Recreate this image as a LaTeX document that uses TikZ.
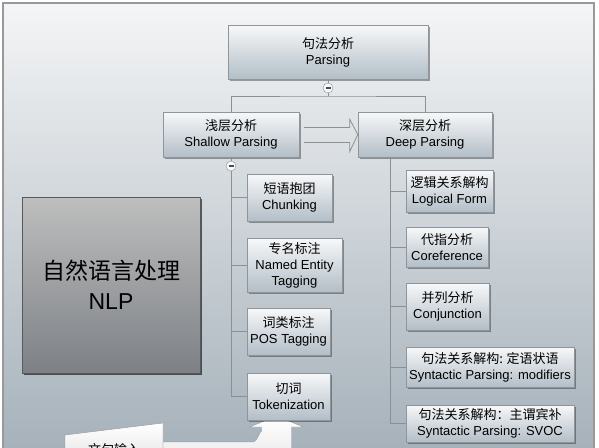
\documentclass[tikz,border=0pt]{standalone}
\usepackage{fontspec}
\setmainfont{Liberation Sans}
\newfontfamily\cjk{Noto Sans CJK SC}
\usetikzlibrary{calc,shadows}
\definecolor{boxtop}{HTML}{F7F8F9}
\definecolor{boxbot}{HTML}{B3BEC7}
\definecolor{boxline}{HTML}{8E969D}
\definecolor{wire}{HTML}{8A9095}
\definecolor{bgtop}{HTML}{F4F5F6}
\definecolor{bgbot}{HTML}{A2AEB7}
\definecolor{nlptop}{HTML}{BEBEBE}
\definecolor{nlpbot}{HTML}{7C8085}
\def\zh#1{{\cjk #1}}
\tikzset{
	box/.style={draw=boxline, top color=boxtop, bottom color=boxbot, align=center, inner sep=1pt,
		drop shadow={shadow xshift=1.5pt, shadow yshift=-1.5pt, fill=black, opacity=0.35},
		font=\fontsize{13}{16}\selectfont},
	nlpbox/.style={draw=black!65, top color=nlptop, bottom color=nlpbot, align=center,
		drop shadow={shadow xshift=2pt, shadow yshift=-2pt, fill=black, opacity=0.6},
		font=\fontsize{23}{30}\selectfont},
	minus/.style={circle, draw=wire, fill=boxtop, minimum size=10pt, inner sep=0pt,
		path picture={\draw[black!70, line width=1.3pt] ([xshift=-2.5pt]path picture bounding box.center) -- ([xshift=2.5pt]path picture bounding box.center);}},
	wire/.style={draw=wire, line width=0.8pt}
}

\begin{document}
\begin{tikzpicture}[x=1pt, y=-1pt]
			%%%%% START %%%%%
			\useasboundingbox (0,0) rectangle (599,447);
			\clip (0,0) rectangle (599,447);
			
			\draw[draw=black!40, line width=1.2pt, top color=bgtop, bottom color=bgbot] (3,3) rectangle (594,470);
			
			\draw[draw=boxline, top color=white, bottom color=black!15] (65,435) -- (163,423) -- (163,480) -- (65,480) -- cycle;
			\node[font=\fontsize{13}{16}\selectfont] (input) at (114,450) {\zh{文句输入}};
			\coordinate (inR) at (163,442);
			\draw[draw=boxline, top color=white, bottom color=black!12] (inR) -- (252.5,442) to[out=0, in=90] (261.5,432) -- (261.5,427) -- (249.5,427) -- (276.5,416) -- (303.5,427) -- (291.5,427) -- (291.5,480) -- (163,480) -- cycle;
			
			\node[nlpbox, minimum width=178pt, minimum height=176pt] (nlp) at (111,285) {\zh{自然语言处理}\\NLP};
			
			\node[box, minimum width=200pt, minimum height=54pt] (parsing) at (328,52) {\zh{句法分析}\\Parsing};
			\node[box, minimum width=136pt, minimum height=45pt] (shallow) at (231,134.5) {\zh{浅层分析}\\Shallow Parsing};
			\node[box, minimum width=134pt, minimum height=45pt] (deep) at (425,134.5) {\zh{深层分析}\\Deep Parsing};
			
			\node[box, minimum width=85pt, minimum height=47pt] (chunk) at (289.5,197.5) {\zh{短语抱团}\\Chunking};
			\node[box, minimum width=95pt, minimum height=54pt] (ner) at (294.5,265) {\zh{专名标注}\\Named Entity\\Tagging};
			\node[box, minimum width=83pt, minimum height=47pt] (pos) at (288.5,331.5) {\zh{词类标注}\\POS Tagging};
			\node[box, minimum width=83pt, minimum height=47pt] (token) at (288.5,396.5) {\zh{切词}\\Tokenization};
			
			\node[box, minimum width=87pt, minimum height=42pt] (logic) at (449.5,191) {\zh{逻辑关系解构}\\Logical Form};
			\node[box, minimum width=82pt, minimum height=40pt] (coref) at (447,247) {\zh{代指分析}\\Coreference};
			\node[box, minimum width=83pt, minimum height=47pt] (conj) at (447.5,306.5) {\zh{并列分析}\\Conjunction};
			\node[box, minimum width=168pt, minimum height=40pt] (modif) at (490,367) {\zh{句法关系解构: 定语状语}\\Syntactic Parsing: modifiers};
			\node[box, minimum width=168pt, minimum height=37pt] (svoc) at (490,423.5) {\zh{句法关系解构：主谓宾补}\\Syntactic Parsing: SVOC};
			
			\node[minus] (pm) at (328,88) {};
			\node[minus] (sm) at (231,166) {};
			
			\coordinate (pj) at (328,96);
			\draw[wire] (parsing.south) -- (pm.north);
			\draw[wire] (pm.south) -- (pj);
			\draw[wire] (shallow.north) |- (pj) -| (deep.north);
			
			\draw[wire] (shallow.south) -- (sm.north);
			\draw[wire] (sm.south) |- (token.west);
			\foreach \n in {chunk,ner,pos}
				\draw[wire] (sm.south |- \n.west) -- (\n.west);
			
			\coordinate (dj) at (390,157);
			\draw[wire] (dj) |- (svoc.west);
			\foreach \n in {logic,coref,conj,modif}
				\draw[wire] (dj |- \n.west) -- (\n.west);
			
			\draw[wire] ($(shallow.east)+(5,-7)$) -- ($(deep.west)+(-8,-7)$) -- ($(deep.west)+(-8,-15)$) -- (deep.west) -- ($(deep.west)+(-8,17)$) -- ($(deep.west)+(-8,8)$) -- ($(shallow.east)+(5,8)$);
			
			%%%%% END %%%%%
\end{tikzpicture}
\end{document}
